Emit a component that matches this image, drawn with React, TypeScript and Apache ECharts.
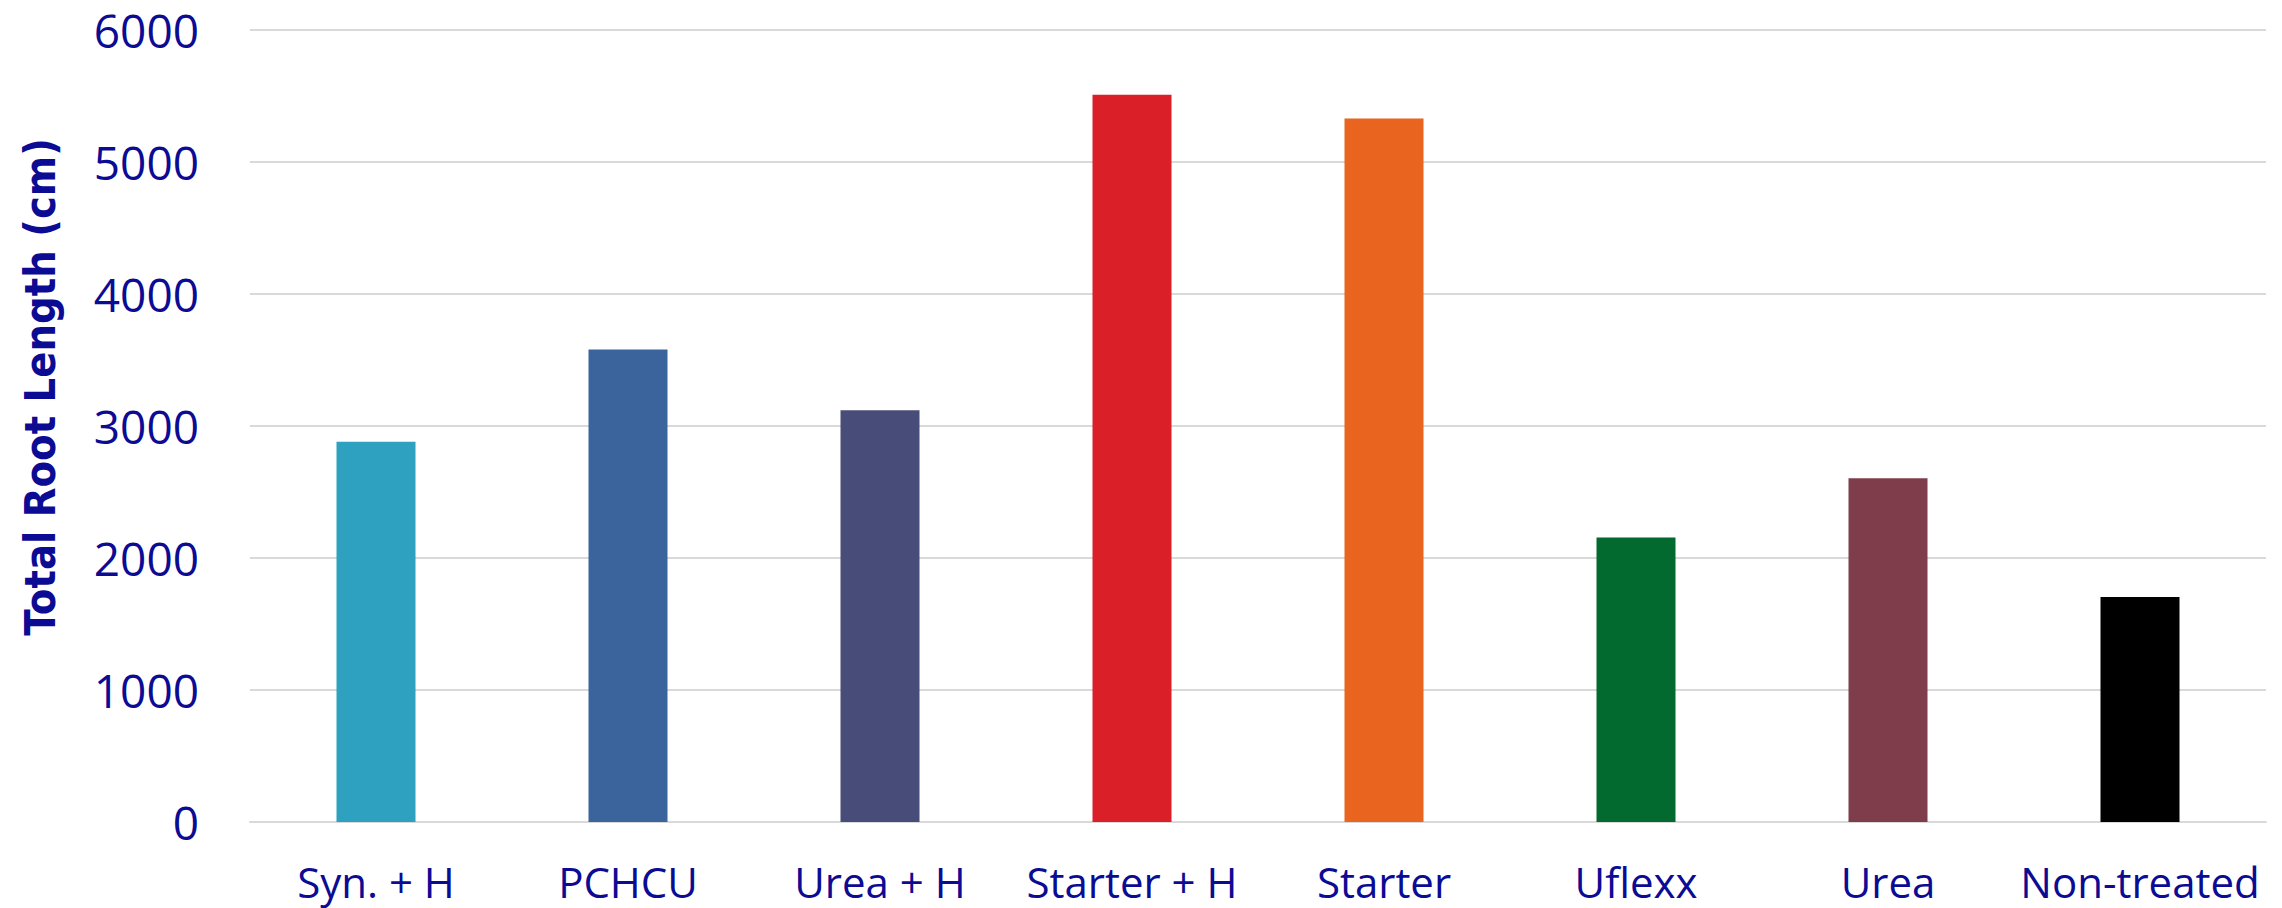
import React, { useEffect, useRef } from "react";
import * as echarts from "echarts";

// Total root length per treatment
const categories = [
  "Syn. + H",
  "PCHCU",
  "Urea + H",
  "Starter + H",
  "Starter",
  "Uflexx",
  "Urea",
  "Non-treated",
];
const rootLength = [2880, 3580, 3120, 5510, 5330, 2155, 2605, 1705];
const barColors = [
  "#2DA1BF",
  "#3A649B",
  "#484C79",
  "#DB1F29",
  "#E9641E",
  "#02692F",
  "#7F3C4B",
  "#000000",
];
const yTicks = [0, 1000, 2000, 3000, 4000, 5000, 6000];
const yTitle = "Total Root Length (cm)";

const TEXT = "#0B0B94";
const GRID = "#D9D9D9";

export default function App() {
  const ref = useRef<HTMLDivElement>(null);

  useEffect(() => {
    if (!ref.current) return;
    const chart = echarts.init(ref.current, undefined, { renderer: "svg" });
    chart.setOption({
      animation: false,
      backgroundColor: "#ffffff",
      grid: { left: 250, right: 16, top: 30, bottom: 86, containLabel: false },
      xAxis: {
        type: "category",
        data: categories,
        axisLine: { show: true, lineStyle: { color: GRID, width: 2 } },
        axisTick: { show: false },
        axisLabel: {
          color: TEXT,
          fontFamily: "Open Sans",
          fontSize: 42,
          margin: 38,
          interval: 0,
        },
      },
      yAxis: {
        type: "value",
        min: yTicks[0],
        max: yTicks[yTicks.length - 1],
        interval: 1000,
        axisLine: { show: false },
        axisTick: { show: false },
        splitLine: { lineStyle: { color: GRID, width: 2 } },
        axisLabel: {
          color: TEXT,
          fontFamily: "Open Sans",
          fontSize: 46,
          margin: 51,
          formatter: (v: number) => String(v),
        },
      },
      graphic: [
        {
          type: "text",
          x: 40,
          y: 387,
          rotation: Math.PI / 2,
          style: {
            text: yTitle,
            fill: TEXT,
            font: "bold 43px 'DejaVu Sans Condensed', 'Open Sans'",
            textAlign: "center",
            textVerticalAlign: "middle",
          },
        },
      ],
      series: [
        {
          type: "bar",
          barWidth: 79,
          data: rootLength.map((v, i) => ({
            value: v,
            itemStyle: { color: barColors[i] },
          })),
        },
      ],
    });
    return () => chart.dispose();
  }, []);

  return (
    <div
      ref={ref}
      style={{ position: "fixed", left: 0, top: 0, width: 2282, height: 908 }}
    />
  );
}
